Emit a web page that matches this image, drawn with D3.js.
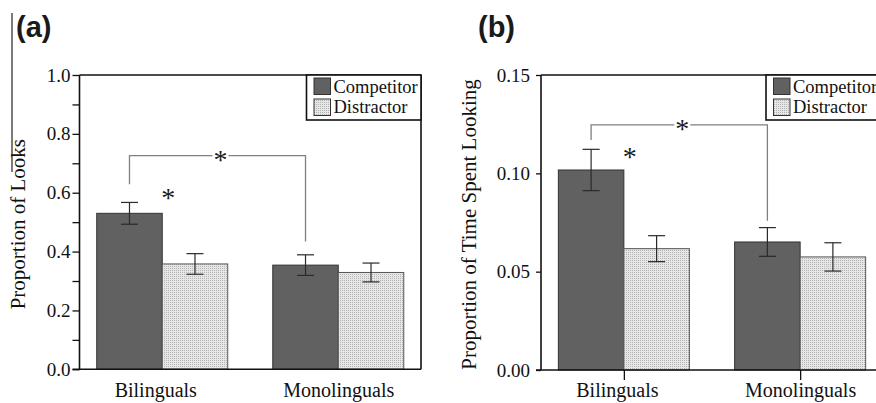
<!DOCTYPE html>
<html>
<head>
<meta charset="utf-8">
<script src="https://cdn.jsdelivr.net/npm/d3@7"></script>
<style>
  html, body { margin: 0; padding: 0; background: #fff; }
  svg { display: block; }
  .serif { font-family: "Liberation Serif", "Times New Roman", Times, "DejaVu Serif", serif; }
</style>
</head>
<body>
<svg id="chart" width="876" height="403"></svg>
<script>
// ---- Data ----
const categories = ["Bilinguals", "Monolinguals"];
const seriesNames = ["Competitor", "Distractor"];

// Panel (a): Proportion of Looks
const looksCompetitor = [0.530, 0.354];
const looksCompetitorErr = [0.037, 0.035];
const looksDistractor = [0.358, 0.329];
const looksDistractorErr = [0.035, 0.032];
const looksTicks = [0.0, 0.2, 0.4, 0.6, 0.8, 1.0];
const looksMinorTicks = [0.1, 0.3, 0.5, 0.7, 0.9];
const looksBracket = { level: 0.726, leftFoot: 0.629, rightFoot: 0.434, star: 0.596 };

// Panel (b): Proportion of Time Spent Looking
const timeCompetitor = [0.1017, 0.0651];
const timeCompetitorErr = [0.0105, 0.0073];
const timeDistractor = [0.0617, 0.0575];
const timeDistractorErr = [0.0066, 0.0072];
const timeTicks = [0.00, 0.05, 0.10, 0.15];
const timeBracket = { level: 0.1246, leftFoot: 0.117, rightFoot: 0.0759, star: 0.1105 };

// ---- Drawing ----
const svg = d3.select("#chart");
const defs = svg.append("defs");
const pat = defs.append("pattern")
  .attr("id", "dots").attr("width", 2).attr("height", 2)
  .attr("patternUnits", "userSpaceOnUse");
pat.append("rect").attr("width", 2).attr("height", 2).attr("fill", "#e6e6e6");
pat.append("rect").attr("width", 1).attr("height", 1).attr("fill", "#b4b4b4");

const COMP_FILL = "#616161";
const BAR_W = 65.5;

function serif(sel, size) {
  return sel.attr("class", "serif").attr("font-family", null)
    .style("font-family", '"Liberation Serif", "Times New Roman", Times, "DejaVu Serif", serif')
    .style("font-size", size + "px");
}

// left border line at the page edge
svg.append("line").attr("x1", 12).attr("x2", 12).attr("y1", 13).attr("y2", 172)
  .attr("stroke", "#222").attr("stroke-width", 1.2);

function drawPanel(cfg) {
  const g = svg.append("g");
  const y = d3.scaleLinear().domain(cfg.domain).range([cfg.bottom, cfg.top]);
  const x = d3.scalePoint().domain(categories).range([cfg.left, cfg.right]).padding(0.47);

  // panel label
  g.append("text").attr("x", cfg.labelX).attr("y", 37)
    .style("font-family", '"Liberation Sans", Arial, sans-serif')
    .attr("font-weight", "bold").style("font-size", "29px").attr("fill", "#1a1a1a")
    .text(cfg.label);

  // bars
  const data = categories.map((c, i) => ({
    cat: c,
    comp: cfg.comp[i], compErr: cfg.compErr[i],
    dist: cfg.dist[i], distErr: cfg.distErr[i]
  }));
  const bars = [];
  data.forEach(d => {
    bars.push({ x0: x(d.cat) - BAR_W, v: d.comp, e: d.compErr, fill: COMP_FILL, stroke: "#333" });
    bars.push({ x0: x(d.cat), v: d.dist, e: d.distErr, fill: "url(#dots)", stroke: "#555" });
  });
  g.selectAll("rect.bar").data(bars).join("rect").attr("class", "bar")
    .attr("x", d => d.x0).attr("width", BAR_W)
    .attr("y", d => y(d.v)).attr("height", d => y(0) - y(d.v))
    .attr("fill", d => d.fill).attr("stroke", d => d.stroke).attr("stroke-width", 1);

  // error bars
  const eb = g.selectAll("g.err").data(bars).join("g").attr("class", "err")
    .attr("stroke", "#2a2a2a").attr("stroke-width", 1.2);
  eb.append("line").attr("x1", d => d.x0 + BAR_W / 2).attr("x2", d => d.x0 + BAR_W / 2)
    .attr("y1", d => y(d.v + d.e)).attr("y2", d => y(d.v - d.e));
  eb.append("line").attr("x1", d => d.x0 + BAR_W / 2 - 8.5).attr("x2", d => d.x0 + BAR_W / 2 + 8.5)
    .attr("y1", d => y(d.v + d.e)).attr("y2", d => y(d.v + d.e));
  eb.append("line").attr("x1", d => d.x0 + BAR_W / 2 - 8.5).attr("x2", d => d.x0 + BAR_W / 2 + 8.5)
    .attr("y1", d => y(d.v - d.e)).attr("y2", d => y(d.v - d.e));

  // significance bracket
  const bx1 = x(categories[0]) - BAR_W / 2;
  const bx2 = x(categories[1]) - BAR_W / 2;
  const by = y(cfg.bracket.level);
  const mid = (bx1 + bx2) / 2 + 3;
  const br = g.append("g").attr("stroke", "#808080").attr("stroke-width", 1.3).attr("fill", "none");
  br.append("path").attr("d", `M${bx1},${y(cfg.bracket.leftFoot)}V${by}H${mid - 8}`);
  br.append("path").attr("d", `M${mid + 8},${by}H${bx2}V${y(cfg.bracket.rightFoot)}`);
  serif(g.append("text"), 28).attr("x", mid).attr("y", by + 13).attr("text-anchor", "middle")
    .attr("fill", "#1a1a1a").text("*");
  serif(g.append("text"), 28).attr("x", x(categories[0]) + 6).attr("y", y(cfg.bracket.star) + 13)
    .attr("text-anchor", "middle").attr("fill", "#1a1a1a").text("*");

  // y axis
  const yAxis = d3.axisLeft(y).tickValues(cfg.ticks).tickFormat(d3.format(cfg.fmt))
    .tickSize(cfg.tickLen).tickPadding(cfg.tickPad);
  const ya = g.append("g").attr("transform", `translate(${cfg.left},0)`).call(yAxis);
  ya.attr("font-family", null).attr("font-size", null);
  ya.select(".domain").remove();
  ya.selectAll("line").attr("stroke", "#111").attr("stroke-width", 1.3);
  serif(ya.selectAll("text"), 19).attr("fill", "#111");
  if (cfg.minor) {
    g.append("g").attr("transform", `translate(${cfg.left},0)`)
      .call(d3.axisLeft(y).tickValues(cfg.minor).tickFormat("").tickSize(cfg.tickLen))
      .call(s => s.select(".domain").remove())
      .selectAll("line").attr("stroke", "#111").attr("stroke-width", 1.3);
  }

  // x axis
  const xAxis = d3.axisBottom(x).tickSize(cfg.xTick).tickPadding(cfg.xPad);
  const xa = g.append("g").attr("transform", `translate(0,${cfg.bottom})`).call(xAxis);
  xa.attr("font-family", null).attr("font-size", null);
  xa.select(".domain").remove();
  xa.selectAll("line").attr("stroke", "#111").attr("stroke-width", 1.3);
  serif(xa.selectAll("text"), 20).attr("fill", "#111")
    .attr("dx", (d, i) => (i === 0 ? -7 : 0));

  // frame
  const fr = g.append("g").attr("stroke", "#111").attr("stroke-width", 1.6).attr("fill", "none");
  fr.append("line").attr("x1", cfg.left - cfg.tickLen).attr("x2", cfg.right)
    .attr("y1", cfg.bottom).attr("y2", cfg.bottom);
  fr.append("line").attr("x1", cfg.left).attr("x2", cfg.left).attr("y1", cfg.top).attr("y2", cfg.bottom);
  fr.append("line").attr("x1", cfg.left).attr("x2", cfg.right).attr("y1", cfg.top).attr("y2", cfg.top);
  fr.append("line").attr("x1", cfg.right).attr("x2", cfg.right).attr("y1", cfg.top).attr("y2", cfg.bottom);

  // y title
  serif(g.append("text"), 21)
    .attr("transform", `translate(${cfg.titleX},${(cfg.top + cfg.bottom) / 2 + 2}) rotate(-90)`)
    .attr("text-anchor", "middle").attr("fill", "#111")
    .text(cfg.title);

  // legend
  const lg = g.append("g");
  lg.append("rect").attr("x", cfg.legendX).attr("y", cfg.top).attr("width", cfg.right - cfg.legendX)
    .attr("height", 45).attr("fill", "#fff").attr("stroke", "#111").attr("stroke-width", 1.6);
  seriesNames.forEach((s, i) => {
    lg.append("rect").attr("x", cfg.legendX + 7.5).attr("y", cfg.top + 3 + i * 21)
      .attr("width", 16.5).attr("height", 16.5)
      .attr("fill", i === 0 ? COMP_FILL : "url(#dots)").attr("stroke", "#333").attr("stroke-width", 1);
    serif(lg.append("text"), 18.5).attr("x", cfg.legendX + 27).attr("y", cfg.top + 17.5 + i * 20.5)
      .attr("fill", "#111").text(s);
  });
}

drawPanel({
  label: "(a)", labelX: 16, title: "Proportion of Looks", titleX: 25,
  left: 79.5, right: 421, top: 75, bottom: 369.3, domain: [0, 1],
  ticks: looksTicks, minor: looksMinorTicks, fmt: ".1f", tickLen: 7, tickPad: 2,
  xTick: 0, xPad: 13.5, legendX: 306.5,
  comp: looksCompetitor, compErr: looksCompetitorErr,
  dist: looksDistractor, distErr: looksDistractorErr, bracket: looksBracket
});
drawPanel({
  label: "(b)", labelX: 478, title: "Proportion of Time Spent Looking", titleX: 476,
  left: 541, right: 883, top: 75, bottom: 370, domain: [0, 0.15],
  ticks: timeTicks, minor: null, fmt: ".2f", tickLen: 5, tickPad: 6,
  xTick: 10, xPad: 3, legendX: 766,
  comp: timeCompetitor, compErr: timeCompetitorErr,
  dist: timeDistractor, distErr: timeDistractorErr, bracket: timeBracket
});
</script>
</body>
</html>
